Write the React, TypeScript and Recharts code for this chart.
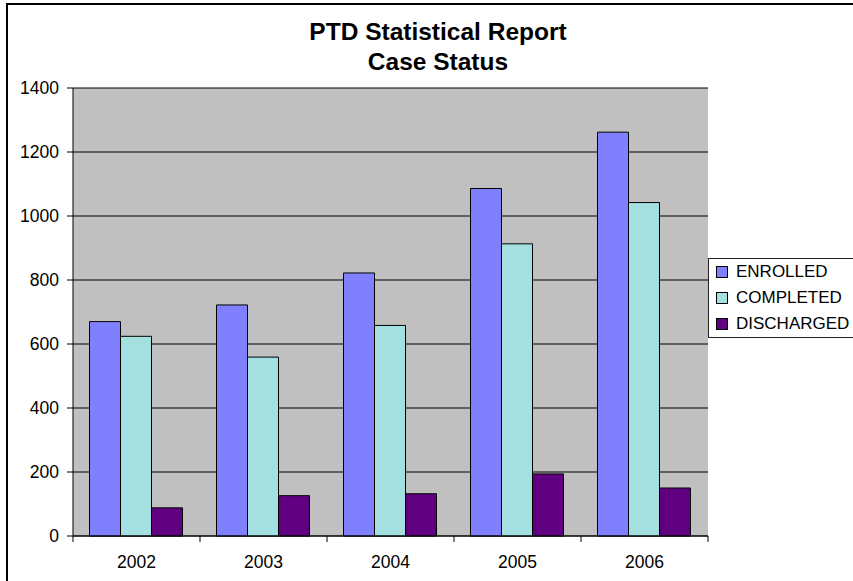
import React from "react";
import {
  BarChart,
  Bar,
  XAxis,
  YAxis,
  CartesianGrid,
  Legend,
} from "recharts";

const years = ["2002", "2003", "2004", "2005", "2006"];
const enrolled = [670, 722, 822, 1086, 1262];
const completed = [624, 559, 658, 913, 1042];
const discharged = [88, 126, 132, 194, 150];
const yTicks = [0, 200, 400, 600, 800, 1000, 1200, 1400];

const series = [
  { key: "ENROLLED", color: "#8080FF" },
  { key: "COMPLETED", color: "#A4E0E0" },
  { key: "DISCHARGED", color: "#600080" },
];

const data = years.map((y, i) => ({
  year: y,
  ENROLLED: enrolled[i],
  COMPLETED: completed[i],
  DISCHARGED: discharged[i],
}));

const W = 853;
const H = 581;
const FONT = "'Liberation Sans', Arial, sans-serif";
const PLOT_LEFT = 73;
const PLOT_RIGHT = 145;
const BAND = (W - PLOT_LEFT - PLOT_RIGHT) / years.length;

// excel style: tick marks sit between categories
const YearTick = (props: any) => {
  const { x, y, payload, index } = props;
  const axisY = y - 8;
  return (
    <g>
      {index === 0 && (
        <line x1={x - BAND / 2} x2={x - BAND / 2} y1={axisY} y2={axisY + 6} stroke="#000" />
      )}
      <line x1={x + BAND / 2} x2={x + BAND / 2} y1={axisY} y2={axisY + 6} stroke="#000" />
      <text x={x} y={axisY + 32} textAnchor="middle" fontSize={17.5} fill="#000" fontFamily={FONT}>
        {payload.value}
      </text>
    </g>
  );
};

// legend keeps the series order (recharts sorts by name otherwise)
const LegendBox = () => (
  <div
    style={{
      border: "1px solid #222",
      width: 160,
      height: 80,
      boxSizing: "border-box",
      background: "#fff",
      fontFamily: FONT,
      fontSize: 17,
      color: "#000",
    }}
  >
    {series.map((s) => (
      <div key={s.key} style={{ display: "flex", alignItems: "center", height: 26, whiteSpace: "nowrap" }}>
        <span
          style={{
            display: "inline-block",
            width: 10,
            height: 10,
            marginLeft: 7,
            marginRight: 8,
            background: s.color,
            border: "1px solid #000",
          }}
        />
        {s.key}
      </div>
    ))}
  </div>
);

export default function App() {
  return (
    <div style={{ position: "absolute", left: 0, top: 0, width: W, height: H, overflow: "hidden", background: "#fff" }}>
      <div
        style={{
          position: "absolute",
          left: 6,
          top: 3,
          width: 1000,
          height: 1000,
          border: "2px solid #000",
        }}
      />
      <div
        style={{
          position: "absolute",
          left: 238,
          width: 400,
          top: 17,
          textAlign: "center",
          fontFamily: FONT,
          fontWeight: "bold",
          fontSize: 24.5,
          lineHeight: "30px",
          color: "#000",
        }}
      >
        PTD Statistical Report
        <br />
        Case Status
      </div>
      <div style={{ position: "absolute", left: 0, top: 0 }}>
        <BarChart
          width={W}
          height={H}
          data={data}
          margin={{ top: 88, right: PLOT_RIGHT, bottom: 0, left: 0 }}
          barCategoryGap="13%"
          barGap={0}
        >
          <CartesianGrid vertical={false} fill="#C0C0C0" stroke="#000" fillOpacity={1} />
          <XAxis
            dataKey="year"
            height={45}
            axisLine={{ stroke: "#000" }}
            tickLine={false}
            tick={<YearTick />}
            interval={0}
          />
          <XAxis xAxisId="top" dataKey="year" orientation="top" height={0} tick={false} tickLine={false} axisLine={{ stroke: "#808080" }} />
          <YAxis
            width={PLOT_LEFT}
            domain={[0, 1400]}
            ticks={yTicks}
            interval={0}
            tickSize={6}
            tickMargin={8}
            axisLine={{ stroke: "#000" }}
            tickLine={{ stroke: "#000" }}
            tick={{ fill: "#000", fontSize: 17.5, fontFamily: FONT }}
          />
          <YAxis yAxisId="right" orientation="right" width={0} domain={[0, 1400]} tick={false} tickLine={false} axisLine={{ stroke: "#808080" }} />
          <Legend
            layout="vertical"
            align="center"
            verticalAlign="middle"
            content={<LegendBox />}
            wrapperStyle={{ position: "absolute", left: 708, top: 258, width: 160 }}
          />
          {series.map((s) => (
            <Bar
              key={s.key}
              dataKey={s.key}
              fill={s.color}
              stroke="#000"
              strokeWidth={1}
              isAnimationActive={false}
            />
          ))}
        </BarChart>
      </div>
    </div>
  );
}
